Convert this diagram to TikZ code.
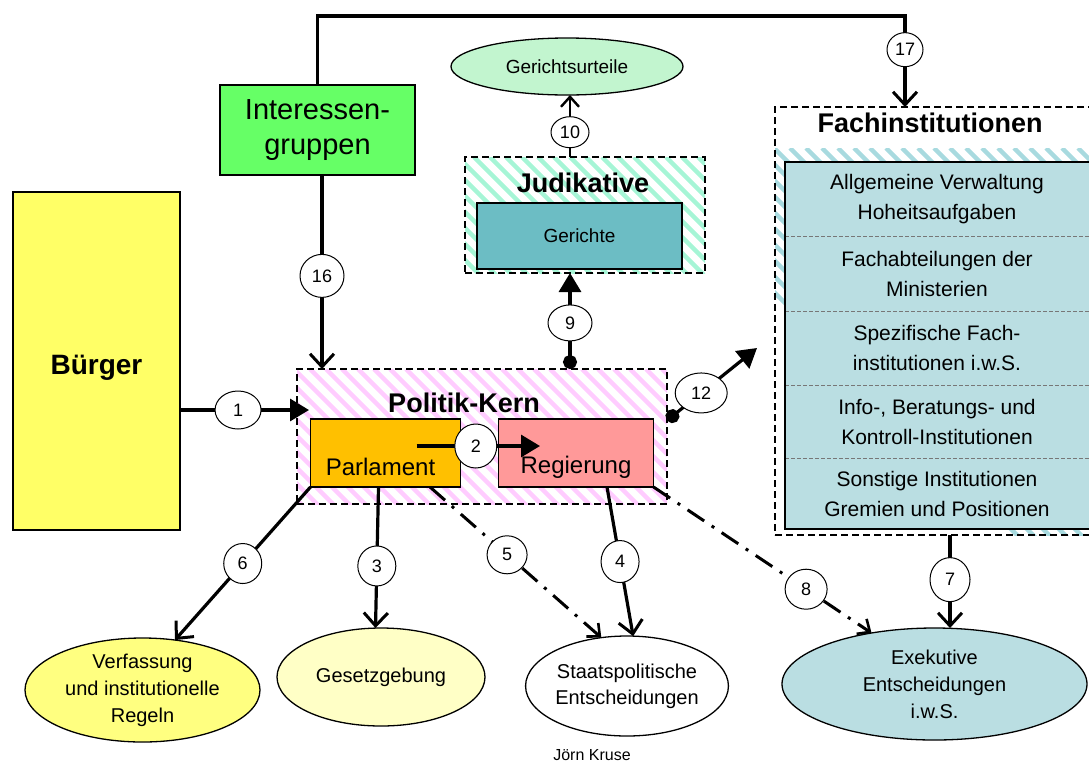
\documentclass[tikz,border=0pt]{standalone}
\usepackage{fontspec}
\setmainfont{Liberation Sans}
\usetikzlibrary{shapes.geometric,arrows.meta}
\definecolor{cBuerger}{HTML}{FFFF66}
\definecolor{cInter}{HTML}{66FF66}
\definecolor{cUrteil}{HTML}{C2F5CF}
\definecolor{cJudStripe}{HTML}{A6F5D6}
\definecolor{cGericht}{HTML}{6CBDC4}
\definecolor{cPolStripe}{HTML}{FFCCFF}
\definecolor{cParl}{HTML}{FFC000}
\definecolor{cReg}{HTML}{FF9999}
\definecolor{cFachStripe}{HTML}{A8DADF}
\definecolor{cFach}{HTML}{BADEE2}
\definecolor{cVerf}{HTML}{FFFF80}
\definecolor{cGes}{HTML}{FFFFC6}
\definecolor{cExek}{HTML}{BADEE2}
\definecolor{cDiv}{HTML}{777777}
\begin{document}
\begin{tikzpicture}[x=1pt,y=-1pt,
  every node/.style={outer sep=0pt, inner sep=0pt},
  box/.style={draw=black, line width=1.4pt, rectangle},
  dashbox/.style={draw=black, line width=1.3pt, dash pattern=on 7pt off 4pt, rectangle},
  ell/.style={draw=black, line width=1.3pt, ellipse, align=center, font=\fontsize{20}{27}\selectfont},
  ttl/.style={font=\fontsize{27}{30}\selectfont\bfseries},
  lbl/.style={font=\fontsize{21}{30}\selectfont, align=center},
  num/.style={ellipse, draw=black, solid, line width=1pt, fill=white, minimum width=40pt, minimum height=42pt, font=\fontsize{18}{18}\selectfont},
  conn/.style={line width=3.2pt},
  filltip/.style={-{Triangle[length=19pt,width=22pt]}},
  dotfill/.style={{Circle[length=14pt]}-{Triangle[length=19pt,width=22pt]}},
  opentip/.style={-{Straight Barb[length=13pt,width=24pt,line width=3pt]}},
  dashdot/.style={line width=3pt, dash pattern=on 20pt off 9pt on 3pt off 9pt, -{Straight Barb[length=10pt,width=18pt,line width=2.6pt]}},
  stripe/.style={line width=4.5pt}
]
\useasboundingbox (0,0) rectangle (1089,764);

% ---- Buerger and Interessengruppen
\node[box, fill=cBuerger, minimum width=167pt, minimum height=338pt,
      label={[font=\fontsize{28}{30}\selectfont\bfseries, yshift=-7pt]center:Bürger}] (buerger) at (96.5,361) {};
\node[box, fill=cInter, minimum width=195pt, minimum height=90pt, align=center, font=\fontsize{29}{35}\selectfont] (inter) at (317.5,130) {Interessen-\\gruppen};

% ---- Gerichtsurteile
\node[ell, fill=cUrteil, minimum width=232pt, minimum height=57pt, font=\fontsize{19}{22}\selectfont] (urteile) at (567,66.5) {Gerichtsurteile};

% ---- Judikative
\begin{scope}
\clip (465,157) rectangle (705,273);
\foreach \x in {330,346,...,710} \draw[stripe, cJudStripe] (\x,157) -- ++(130,130);
\end{scope}
\node[dashbox, minimum width=240pt, minimum height=116pt] (judik) at (585,215) {};
\node[ttl] (judt) at (583,183) {Judikative};
\node[box, fill=cGericht, minimum width=205pt, minimum height=66pt, font=\fontsize{19}{22}\selectfont] (gericht) at (579.5,236) {Gerichte};

% ---- Politik-Kern
\begin{scope}
\clip (297,369) rectangle (667,504);
\foreach \x in {150,166,...,680} \draw[stripe, cPolStripe] (\x,369) -- ++(140,140);
\end{scope}
\node[dashbox, minimum width=370pt, minimum height=135pt] (politik) at (482,436.5) {};
\node[ttl] (polt) at (464,403) {Politik-Kern};
\node[box, fill=cParl, minimum width=150pt, minimum height=68pt,
      label={[lbl, font=\fontsize{24}{28}\selectfont, yshift=-14pt, xshift=-5pt]center:Parlament}] (parl) at (385.5,453) {};
\node[box, fill=cReg, minimum width=155pt, minimum height=68pt,
      label={[lbl, font=\fontsize{24}{28}\selectfont, yshift=-14pt]center:Regierung}] (reg) at (576,453) {};

% ---- Fachinstitutionen
\begin{scope}
\clip (775,148) rectangle (1095,535);
\foreach \x in {630,646,...,1100} \draw[stripe, cFachStripe] (\x,148) -- ++(400,400);
\end{scope}
\node[dashbox, minimum width=320pt, minimum height=428pt] (fach) at (935,321) {};
\node[ttl] (facht) at (930,123) {Fachinstitutionen};
\node[fill=cFach, minimum width=304pt, minimum height=74pt, lbl] (r1) at (937,199) {Allgemeine Verwaltung\\Hoheitsaufgaben};
\node[fill=cFach, minimum width=304pt, minimum height=75pt, lbl] (r2) at (937,273.5) {Fachabteilungen der\\Ministerien};
\node[fill=cFach, minimum width=304pt, minimum height=74pt, lbl] (r3) at (937,348) {Spezifische Fach-\\institutionen i.w.S.};
\node[fill=cFach, minimum width=304pt, minimum height=73pt, lbl] (r4) at (937,421.5) {Info-, Beratungs- und\\Kontroll-Institutionen};
\node[fill=cFach, minimum width=304pt, minimum height=71pt, lbl] (r5) at (937,493.5) {Sonstige Institutionen\\Gremien und Positionen};
\foreach \r in {r1,r2,r3,r4} \draw[cDiv, line width=0.9pt, dash pattern=on 4pt off 2pt] (\r.south west) -- ([xshift=6pt]\r.south east);
\draw[line width=1.4pt] ([xshift=8pt]r1.north east) -- (r1.north west) -- (r5.south west) -- ([xshift=8pt]r5.south east);

% ---- bottom ellipses
\node[ell, fill=cVerf, minimum width=235pt, minimum height=104pt] (verf) at (142.5,690) {Verfassung\\und institutionelle\\Regeln};
\node[ell, fill=cGes, minimum width=208pt, minimum height=98pt] (ges) at (381,677) {Gesetzgebung};
\node[ell, fill=white, minimum width=198pt, minimum height=100pt, font=\fontsize{20}{26}\selectfont] (stat) at (627,686) {Staatspolitische\\Entscheidungen};
\node[ell, fill=cExek, minimum width=305pt, minimum height=112pt] (exek) at (934.5,684) {Exekutive\\Entscheidungen\\i.w.S.};

\node[font=\fontsize{16}{18}\selectfont] (autor) at (592,755) {Jörn Kruse};

% ---- connectors
\coordinate (t17) at (905,16);
\draw[conn, opentip] (inter.north) |- (t17) -- node[num, pos=0.37, minimum width=36pt, minimum height=34pt]{17} (t17 |- fach.north);

\draw[conn, filltip] ([yshift=-49pt]buerger.east) -- node[num, pos=0.45, minimum width=46pt, minimum height=38pt]{1} ([xshift=12pt,yshift=26.5pt]politik.west);

\draw[conn, opentip] ([xshift=4.5pt]inter.south) -- node[num, pos=0.52, minimum width=44pt, minimum height=43pt]{16} ([xshift=4.5pt]inter.south |- politik.north);

\draw[conn, dotfill] ([xshift=88pt]politik.north) -- node[num, pos=0.48, minimum width=44pt, minimum height=36pt]{9} ([xshift=88pt]politik.north |- judik.south);

\draw[line width=2.4pt, -{Straight Barb[length=10pt,width=18pt,line width=2.4pt]}] ([xshift=-15pt]judik.north) -- node[num, pos=0.4, minimum width=38pt, minimum height=31pt]{10} ([xshift=-15pt]judik.north |- urteile.south);

\coordinate (e12) at (757,348);
\draw[conn, dotfill] ([yshift=16pt]politik.east) -- node[num, pos=0.38, minimum width=52pt, minimum height=40pt]{12} (e12);

\draw[conn, filltip] ([xshift=31pt,yshift=7pt]parl.center) -- node[num, pos=0.48, minimum width=42pt, minimum height=44pt]{2} ([xshift=-36pt,yshift=7pt]reg.center);

\draw[conn, opentip] (parl.south west) -- node[num, pos=0.5, minimum width=38pt, minimum height=40pt]{6} (verf.57);
\draw[conn, opentip] ([xshift=-7pt]parl.south) -- node[num, pos=0.56, minimum width=38pt, minimum height=40pt]{3} ([xshift=-10pt]parl.south |- ges.north);
\draw[dashdot] ([xshift=44.5pt]parl.south) -- node[num, pos=0.45, minimum width=40pt, minimum height=38pt]{5} (stat.118);
\draw[conn, opentip] ([xshift=31pt]reg.south) -- node[num, pos=0.5, minimum width=38pt, minimum height=42pt]{4} (stat.83);
\draw[dashdot] (reg.south east) -- node[num, pos=0.7, minimum width=42pt, minimum height=40pt]{8} (exek.141);
\draw[conn, opentip] ([xshift=15pt]fach.south) -- node[num, pos=0.48, minimum width=40pt, minimum height=44pt]{7} ([xshift=15pt]fach.south |- exek.north);
\end{tikzpicture}
\end{document}
